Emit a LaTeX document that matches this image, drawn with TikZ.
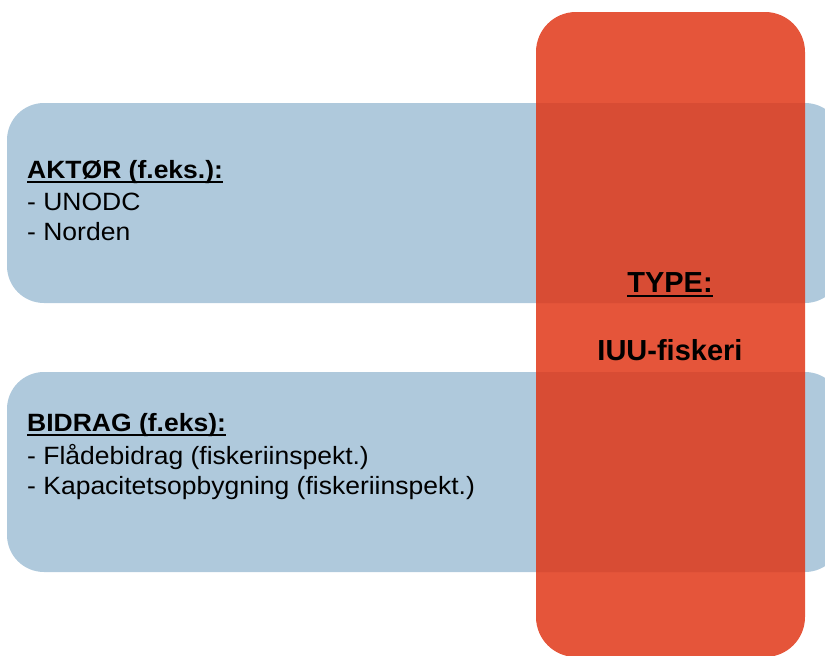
\documentclass[tikz,border=0pt]{standalone}
\usepackage{graphicx}
\usepackage{fontspec}
\setmainfont{Liberation Sans}[Ligatures={TeX,NoCommon}]
\definecolor{boxblue}{RGB}{175,201,220}
\definecolor{typered}{RGB}{224,55,23}
% left-hand texts are set slightly widened
\newcommand{\widetext}[1]{\scalebox{1.06}[1]{#1}}
\tikzset{
  band/.style={fill=boxblue, draw=none, rounded corners=37pt},
  column/.style={fill=typered, fill opacity=0.85, draw=none, rounded corners=40pt},
  head/.style={anchor=base west, inner sep=0pt, font=\fontsize{25}{28}\selectfont\bfseries},
  item/.style={anchor=base west, inner sep=0pt, font=\fontsize{25}{28}\selectfont},
  title/.style={anchor=base, inner sep=0pt, font=\fontsize{29}{34}\selectfont\bfseries},
  uline/.style={line width=2pt},
  tline/.style={line width=2.6pt}
}
\begin{document}
\begin{tikzpicture}[x=1pt,y=-1pt]
  \useasboundingbox (0,0) rectangle (825,656);
  % two horizontal bands
  \fill[band] (7,103) rectangle (842,303);
  \fill[band] (7,372) rectangle (842,572);
  % translucent vertical column on top
  \fill[column] (536,12) rectangle (805,657);

  % upper band texts
  \node[head] (aktor) at (27,178) {\widetext{AKTØR (f.eks.):}};
  \node[item] (unodc) at (27,210) {\widetext{- UNODC}};
  \node[item] (norden) at (27,240) {\widetext{- Norden}};
  \draw[uline] ([yshift=-4pt]aktor.base west) -- ([yshift=-4pt]aktor.base east);

  % lower band texts
  \node[head] (bidrag) at (27,431) {\widetext{BIDRAG (f.eks):}};
  \node[item] (flade) at (27,464) {\widetext{- Flådebidrag (fiskeriinspekt.)}};
  \node[item] (kapa) at (27,494) {\widetext{- Kapacitetsopbygning (fiskeriinspekt.)}};
  \draw[uline] ([yshift=-4pt]bidrag.base west) -- ([yshift=-4pt]bidrag.base east);

  % column texts
  \node[title] (type) at (670,292) {TYPE:};
  \node[title] (iuu) at (670,360) {IUU-fiskeri};
  \draw[tline] ([yshift=-4pt]type.base west) -- ([yshift=-4pt]type.base east);
\end{tikzpicture}
\end{document}
